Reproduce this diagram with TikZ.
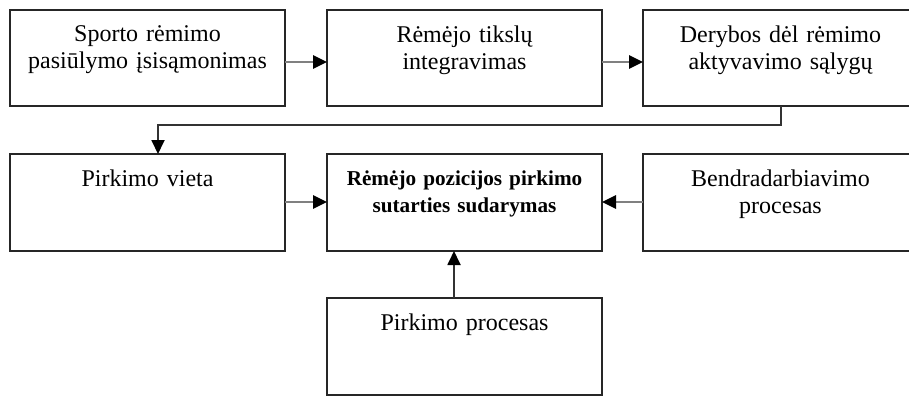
\documentclass[tikz,border=0pt]{standalone}
\usepackage{fontspec}
\setmainfont{Liberation Serif}
\usetikzlibrary{arrows.meta}
\begin{document}
\begin{tikzpicture}[x=0.5pt,y=-0.5pt,
  boxstyle/.style={draw=black!85, line width=0.8pt, fill=white},
  txt/.style={anchor=north, inner sep=0pt, align=center, text width=135pt, font=\fontsize{12}{13.5}\selectfont},
  arr/.style={draw=black!50, line width=1.4pt, -{Triangle[length=7pt,width=6.5pt,fill=black,color=black]}},
  conn/.style={draw=black!80, line width=0.9pt, -{Triangle[length=7pt,width=6.5pt,fill=black,color=black]}},
  line/.style={draw=black!80, line width=0.9pt}]
\clip (0,0) rectangle (909,397);
\useasboundingbox (0,0) rectangle (909,397);
% boxes
\draw[boxstyle] (10,10) rectangle (285,106);
\draw[boxstyle] (327,10) rectangle (602,106);
\draw[boxstyle] (643,10) rectangle (918,106);
\draw[boxstyle] (10,154) rectangle (285,251);
\draw[boxstyle] (327,154) rectangle (602,251);
\draw[boxstyle] (643,154) rectangle (918,251);
\draw[boxstyle] (327,298) rectangle (602,395);
% anchors
\coordinate (b1e) at (285,62);
\coordinate (b2w) at (327,62);
\coordinate (b2e) at (602,62);
\coordinate (b3w) at (643,62);
\coordinate (b3s) at (781,106);
\coordinate (bend1) at (781,125);
\coordinate (bend2) at (158,125);
\coordinate (b4n) at (158,154);
\coordinate (b4e) at (285,202);
\coordinate (b5w) at (327,202);
\coordinate (b5e) at (602,202);
\coordinate (b6w) at (643,202);
\coordinate (b5s) at (454,251);
\coordinate (b7n) at (454,298);
% texts
\node[txt] (t1) at (147.5,25) {Sporto rėmimo\\pasiūlymo įsisąmonimas};
\node[txt] (t2) at (464.5,25) {Rėmėjo tikslų\\integravimas};
\node[txt] (t3) at (780.5,25) {Derybos dėl rėmimo\\aktyvavimo sąlygų};
\node[txt] (t4) at (147.5,169) {Pirkimo vieta};
\node[txt, font=\fontsize{10.6}{13.5}\selectfont\bfseries] (t5) at (464.5,170) {Rėmėjo pozicijos pirkimo\\sutarties sudarymas};
\node[txt] (t6) at (780.5,169) {Bendradarbiavimo\\procesas};
\node[txt] (t7) at (464.5,313) {Pirkimo procesas};
% connectors
\draw[arr] (b1e) -- (b2w);
\draw[arr] (b2e) -- (b3w);
\draw[conn] (b3s) -- (bend1) -- (bend2) -- (b4n);
\draw[arr] (b4e) -- (b5w);
\draw[arr] (b6w) -- (b5e);
\draw[conn] (b7n) -- (b5s);
\end{tikzpicture}
\end{document}
